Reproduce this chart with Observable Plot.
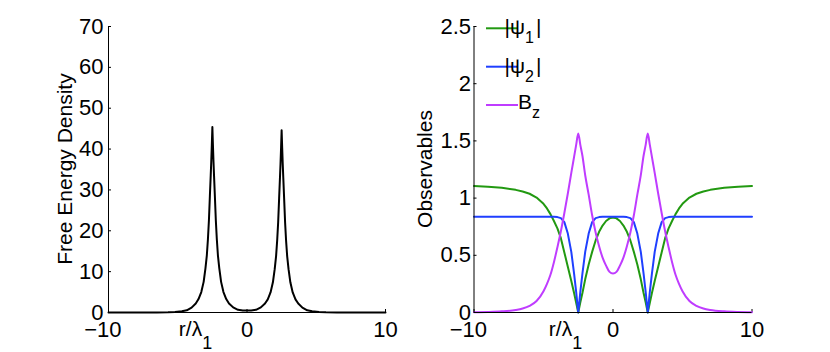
<!DOCTYPE html>
<html><head><meta charset="utf-8">
<script src="https://cdn.jsdelivr.net/npm/d3@7"></script>
<script src="https://cdn.jsdelivr.net/npm/@observablehq/plot@0.6"></script>
<style>
body{margin:0;background:#fff;}
#wrap{display:flex;width:830px;height:352px;}
svg{display:block;}
</style></head><body><div id="wrap"></div><script>
// ---------- data ----------
const xTicks = [-10, 0, 10];
const energyTicks = [0, 10, 20, 30, 40, 50, 60, 70];
const obsTicks = [0, 0.5, 1, 1.5, 2, 2.5];

const energyX = [-10, -7.5, -6.5, -5.7, -5.2, -4.7, -4.35, -4.0, -3.7, -3.5, -3.3, -3.13, -3.0, -2.9, -2.82, -2.75, -2.68, -2.62, -2.58, -2.54, -2.5, -2.46, -2.42, -2.38, -2.32, -2.25, -2.18, -2.1, -2.0, -1.87, -1.7, -1.5, -1.3, -1.0, -0.65, -0.3, 0, 0.3, 0.65, 1.0, 1.3, 1.5, 1.7, 1.87, 2.0, 2.1, 2.18, 2.25, 2.32, 2.38, 2.42, 2.46, 2.5, 2.54, 2.58, 2.62, 2.68, 2.75, 2.82, 2.9, 3.0, 3.13, 3.3, 3.5, 3.7, 4.0, 4.35, 4.7, 5.2, 5.7, 6.5, 7.5, 10];
const energyY = [0, 0, 0.02, 0.05, 0.13, 0.3, 0.55, 1.2, 2.2, 3.3, 5, 7.5, 10.8, 14, 18, 22.5, 28.5, 33.5, 37, 41, 45.4, 41, 37, 33.5, 28.5, 22.5, 18, 14, 10.8, 7.5, 5, 3.3, 2.2, 1.25, 0.65, 0.5, 0.48, 0.5, 0.65, 1.25, 2.2, 3.2, 4.9, 7.4, 10.6, 13.8, 17.7, 22.1, 28, 33, 36.4, 40.3, 44.6, 40.3, 36.4, 33, 28, 22.1, 17.7, 13.8, 10.6, 7.4, 4.9, 3.2, 2.2, 1.2, 0.55, 0.3, 0.13, 0.05, 0.02, 0, 0];

const obsX = [-10, -9, -8, -7, -6.5, -6, -5.5, -5, -4.75, -4.5, -4.25, -4, -3.75, -3.5, -3.25, -3, -2.8, -2.65, -2.5, -2.35, -2.2, -2, -1.75, -1.5, -1.25, -1, -0.75, -0.5, -0.25, 0, 0.25, 0.5, 0.75, 1, 1.25, 1.5, 1.75, 2, 2.2, 2.35, 2.5, 2.65, 2.8, 3, 3.25, 3.5, 3.75, 4, 4.25, 4.5, 4.75, 5, 5.5, 6, 6.5, 7, 8, 9, 10];
const psi1 = [1.105, 1.1, 1.09, 1.072, 1.058, 1.038, 1.005, 0.95, 0.91, 0.86, 0.80, 0.735, 0.65, 0.525, 0.40, 0.275, 0.17, 0.085, 0, 0.09, 0.17, 0.29, 0.42, 0.53, 0.63, 0.705, 0.76, 0.80, 0.823, 0.83,
              0.823, 0.80, 0.76, 0.705, 0.63, 0.53, 0.42, 0.29, 0.17, 0.09, 0, 0.085, 0.17, 0.275, 0.40, 0.525, 0.65, 0.735, 0.80, 0.86, 0.91, 0.95, 1.005, 1.038, 1.058, 1.072, 1.09, 1.1, 1.105];
const psi2 = [0.837, 0.837, 0.837, 0.837, 0.837, 0.837, 0.837, 0.837, 0.837, 0.837, 0.837, 0.834, 0.825, 0.79, 0.69, 0.53, 0.34, 0.18, 0, 0.18, 0.34, 0.53, 0.69, 0.79, 0.825, 0.834, 0.837, 0.837, 0.837, 0.837,
              0.837, 0.837, 0.837, 0.834, 0.825, 0.79, 0.69, 0.53, 0.34, 0.18, 0, 0.18, 0.34, 0.53, 0.69, 0.79, 0.825, 0.834, 0.837, 0.837, 0.837, 0.837, 0.837, 0.837, 0.837, 0.837, 0.837, 0.837, 0.837];
const bz = [0.003, 0.005, 0.01, 0.022, 0.035, 0.058, 0.1, 0.185, 0.25, 0.33, 0.44, 0.57, 0.71, 0.87, 1.04, 1.22, 1.36, 1.465, 1.565, 1.465, 1.37, 1.2, 1.03, 0.85, 0.7, 0.58, 0.48, 0.41, 0.355, 0.34,
            0.355, 0.41, 0.48, 0.58, 0.7, 0.85, 1.03, 1.2, 1.37, 1.465, 1.565, 1.465, 1.36, 1.22, 1.04, 0.87, 0.71, 0.57, 0.44, 0.33, 0.25, 0.185, 0.1, 0.058, 0.035, 0.022, 0.01, 0.005, 0.003];

const seriesNames = ["ψ1", "ψ2", "Bz"];
const seriesColors = ["#229911", "#1f3fff", "#bf3cff"];

// ---------- drawing ----------
const FONT = "'Liberation Sans', Arial, Helvetica, sans-serif";
const W = 415, H = 352, MT = 26, MB = 40;
const TICK_FS = 22;
const fmt = d => d < 0 ? "\u2212" + Math.abs(d) : String(d);

function panel({ml, mr, yDomain, yTicks, yPad, lines}) {
  const innerW = W - ml - mr, innerH = H - MT - MB;
  return Plot.plot({
    width: W, height: H, marginLeft: ml, marginRight: mr, marginTop: MT, marginBottom: MB,
    style: {fontFamily: FONT, fontSize: TICK_FS + "px", color: "#000", background: "#fff", overflow: "visible"},
    x: {domain: [-10, 10], axis: null},
    y: {domain: yDomain, axis: null},
    marks: [
      Plot.axisY(yTicks, {tickSize: 0, tickPadding: yPad, tickFormat: d => String(d), label: null, fontSize: TICK_FS}),
      Plot.tickY(yTicks, {y: d => d, insetRight: innerW - 3, stroke: "#000"}),
      Plot.tickX(xTicks, {x: d => d, insetTop: innerH - 3, stroke: "#000"}),
      Plot.text(xTicks.filter(d => d < 0), {x: d => d, text: fmt, frameAnchor: "bottom", lineAnchor: "top", dy: 9, dx: 13, textAnchor: "end", fontSize: TICK_FS}),
      Plot.text(xTicks.filter(d => d >= 0), {x: d => d, text: fmt, frameAnchor: "bottom", lineAnchor: "top", dy: 9, fontSize: TICK_FS}),
      ...lines.map(l => Plot.line(l.y, {x: (d, i) => l.x[i], y: d => d, stroke: l.color, strokeWidth: 2, curve: l.curve || "linear"})),
      Plot.ruleX([-10], {stroke: "#000", strokeWidth: 1}),
      Plot.ruleY([yDomain[0]], {stroke: "#000", strokeWidth: 1})
    ]
  });
}

const wrap = document.getElementById("wrap");

const left = panel({ml: 108, mr: 30, yDomain: [0, 70], yTicks: energyTicks, yPad: 5,
  lines: [{x: energyX, y: energyY, color: "#000"}]});
const right = panel({ml: 58.5, mr: 78.5, yDomain: [0, 2.5], yTicks: obsTicks, yPad: 3,
  lines: [{x: obsX, y: psi1, color: seriesColors[0]},
          {x: obsX, y: psi2, color: seriesColors[1]},
          {x: obsX, y: bz, color: seriesColors[2], curve: "monotone-x"}]});
wrap.appendChild(left);
wrap.appendChild(right);

function xLabel(svg, startOffset) {
  const x0 = svg.scale("x").apply(0);
  const t = d3.select(svg).append("text")
    .attr("x", x0 - startOffset).attr("y", 336)
    .attr("font-family", FONT).attr("font-size", 21).attr("fill", "#000");
  t.append("tspan").text("r/λ");
  t.append("tspan").attr("dy", 13).attr("dx", 0).attr("font-size", 18).text("1");
}
function yLabel(svg, x, label) {
  d3.select(svg).append("text")
    .attr("transform", `translate(${x},${(MT + H - MB) / 2}) rotate(-90)`)
    .attr("text-anchor", "middle")
    .attr("font-family", FONT).attr("font-size", 21).attr("fill", "#000")
    .text(label);
}
xLabel(left, 51);
xLabel(right, 47);
yLabel(left, 72, "Free Energy Density");
yLabel(right, 17, "Observables");

// legend
const lg = d3.select(right).append("g").attr("font-family", FONT).attr("font-size", 21).attr("fill", "#000");
const legendY = [28.3, 66.7, 105];
seriesNames.forEach((name, i) => {
  lg.append("line").attr("x1", 71).attr("x2", 103).attr("y1", legendY[i]).attr("y2", legendY[i])
    .attr("stroke", seriesColors[i]).attr("stroke-width", 2);
  if (i < 2) {
    const t = lg.append("text").attr("x", 108).attr("y", legendY[i] + 6);
    t.append("tspan").text("|" + name[0]);
    t.append("tspan").attr("dy", 9).attr("font-size", 16).text(name.slice(1));
    t.append("tspan").attr("dy", -9).attr("dx", 2).text("|");
  } else {
    const t = lg.append("text").attr("x", 114).attr("y", legendY[i] + 3.5);
    t.append("tspan").text(name[0]);
    t.append("tspan").attr("dy", 9).attr("font-size", 16).text(name.slice(1));
  }
});
</script></body></html>
